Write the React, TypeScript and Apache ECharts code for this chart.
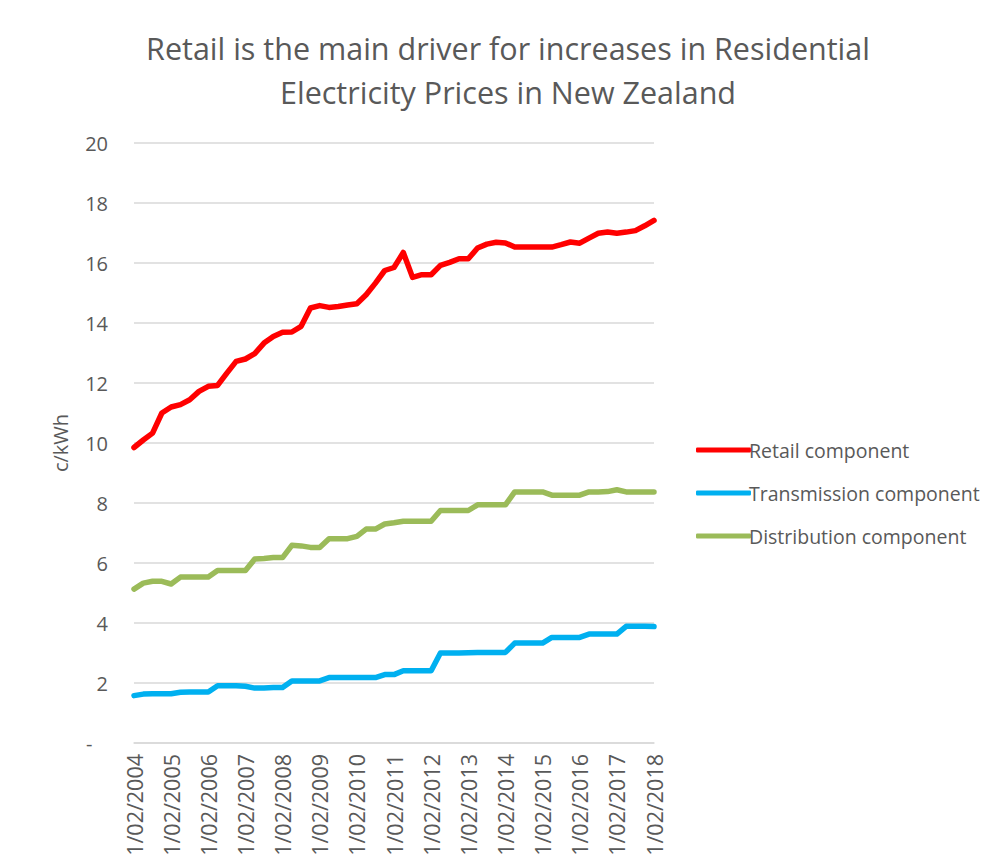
import React, { useEffect, useRef } from "react";
import * as echarts from "echarts";

const years = [2004, 2005, 2006, 2007, 2008, 2009, 2010, 2011, 2012, 2013, 2014, 2015, 2016, 2017, 2018];
const months = ["02", "05", "08", "11"];

const retail = [9.85, 10.1, 10.33, 11.0, 11.2, 11.28, 11.44, 11.72, 11.89, 11.92, 12.33, 12.72, 12.8, 12.98, 13.33, 13.55, 13.69, 13.7, 13.89, 14.5, 14.58, 14.52, 14.55, 14.6, 14.64, 14.94, 15.33, 15.75, 15.85, 16.35, 15.52, 15.61, 15.61, 15.92, 16.02, 16.14, 16.14, 16.5, 16.63, 16.69, 16.67, 16.53, 16.53, 16.53, 16.53, 16.53, 16.61, 16.7, 16.66, 16.83, 16.99, 17.03, 16.99, 17.03, 17.08, 17.24, 17.42];
const transmission = [1.58, 1.63, 1.64, 1.64, 1.64, 1.69, 1.7, 1.7, 1.7, 1.91, 1.91, 1.91, 1.89, 1.83, 1.83, 1.85, 1.85, 2.07, 2.07, 2.07, 2.07, 2.18, 2.18, 2.18, 2.18, 2.18, 2.18, 2.28, 2.28, 2.41, 2.41, 2.41, 2.41, 3.0, 3.0, 3.0, 3.01, 3.02, 3.02, 3.02, 3.02, 3.33, 3.33, 3.33, 3.33, 3.52, 3.52, 3.52, 3.52, 3.63, 3.63, 3.63, 3.63, 3.89, 3.89, 3.89, 3.88];
const distribution = [5.13, 5.33, 5.39, 5.39, 5.3, 5.53, 5.53, 5.53, 5.53, 5.75, 5.75, 5.75, 5.75, 6.13, 6.15, 6.18, 6.18, 6.59, 6.57, 6.52, 6.52, 6.81, 6.81, 6.81, 6.89, 7.13, 7.13, 7.3, 7.34, 7.39, 7.39, 7.39, 7.39, 7.75, 7.75, 7.75, 7.75, 7.94, 7.94, 7.94, 7.94, 8.37, 8.37, 8.37, 8.37, 8.26, 8.26, 8.26, 8.26, 8.37, 8.37, 8.38, 8.44, 8.37, 8.37, 8.37, 8.37];

const seriesNames = ["Retail component", "Transmission component", "Distribution component"];
const seriesColors = ["#FF0000", "#00B0F0", "#9BBB59"];
const titleText = "Retail is the main driver for increases in Residential\nElectricity Prices in New Zealand";
const yAxisName = "c/kWh";

const categories: string[] = [];
years.forEach((y) => {
  months.forEach((m) => {
    if (categories.length < retail.length) categories.push(`1/${m}/${y}`);
  });
});

const FONT = "'Open Sans', sans-serif";
const TEXT = "#595959";

export default function App() {
  const ref = useRef<HTMLDivElement>(null);
  useEffect(() => {
    if (!ref.current) return;
    const chart = echarts.init(ref.current, undefined, { renderer: "svg" });
    const data = [retail, transmission, distribution];
    chart.setOption({
      animation: false,
      backgroundColor: "#ffffff",
      textStyle: { fontFamily: FONT },
      graphic: [
        {
          type: "text",
          x: 508,
          y: 70,
          style: {
            text: titleText,
            textAlign: "center",
            textVerticalAlign: "middle",
            fontSize: 30.5,
            lineHeight: 44,
            fontFamily: FONT,
            fill: TEXT,
          },
        },
      ],
      grid: { left: 134, right: 340, top: 143, bottom: 123, containLabel: false },
      legend: {
        orient: "vertical",
        left: 691,
        top: 435,
        itemWidth: 55,
        itemHeight: 5,
        itemGap: 23,
        icon: "roundRect",
        textStyle: { fontSize: 19.5, color: TEXT, fontFamily: FONT, lineHeight: 20, padding: [0, 0, 0, -7] },
        data: seriesNames,
      },
      xAxis: {
        type: "category",
        data: categories,
        boundaryGap: false,
        axisLine: { show: true, lineStyle: { color: "#d9d9d9", width: 1.5 } },
        axisTick: { show: false },
        axisLabel: { interval: 3, rotate: 90, margin: 11, fontSize: 21.5, color: TEXT, fontFamily: FONT },
        splitLine: { show: false },
      },
      yAxis: {
        type: "value",
        min: 0,
        max: 20,
        interval: 2,
        name: yAxisName,
        nameLocation: "middle",
        nameGap: 64,
        nameRotate: 90,
        nameTextStyle: { fontSize: 20, color: TEXT, fontFamily: FONT },
        axisLine: { show: false },
        axisTick: { show: false },
        axisLabel: {
          margin: 26,
          fontSize: 20,
          color: TEXT,
          fontFamily: FONT,
          formatter: (v: number) => (v === 0 ? "-   " : String(v)),
        },
        splitLine: { lineStyle: { color: "#d9d9d9", width: 1.5 } },
      },
      series: seriesNames.map((name, i) => ({
        name,
        type: "line",
        data: data[i],
        symbol: "none",
        color: seriesColors[i],
        lineStyle: { width: 5.5, color: seriesColors[i], cap: "round", join: "round" },
      })),
    });
    return () => chart.dispose();
  }, []);
  return <div ref={ref} style={{ position: "fixed", left: 0, top: 0, width: 994, height: 866 }} />;
}
